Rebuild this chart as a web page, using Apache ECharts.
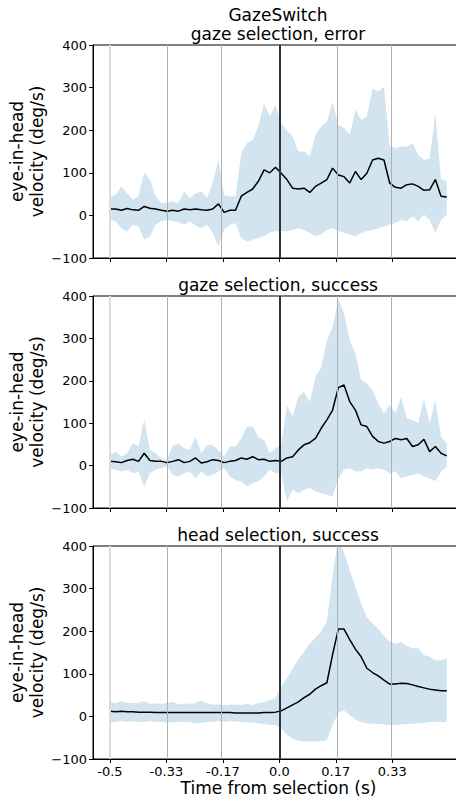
<!DOCTYPE html>
<html>
<head>
<meta charset="utf-8">
<title>GazeSwitch</title>
<script src="https://cdn.jsdelivr.net/npm/echarts@6.0.0/dist/echarts.min.js"></script>
<style>
html, body { margin: 0; padding: 0; background: #fff; }
#chart { width: 456px; height: 800px; }
</style>
</head>
<body>
<div id="chart"></div>
<script>
const figTitle = 'GazeSwitch';
const panelTitles = ['gaze selection, error', 'gaze selection, success', 'head selection, success'];
const yName = 'eye-in-head\nvelocity (deg/s)';
const xName = 'Time from selection (s)';

const xTickValues = [-0.5, -1 / 3, -1 / 6, 0, 1 / 6, 1 / 3];
const xTickLabels = ['-0.5', '-0.33', '-0.17', '0.0', '0.17', '0.33'];
const yTickValues = [-100, 0, 100, 200, 300, 400];
const yTickLabels = ['\u2212100', '0', '100', '200', '300', '400'];

// sample times: first sample at -0.5 s, one every ~16.9 ms
const t0 = -0.5;
const dt = 0.01685;

// gaze selection, error
const mean0 = [15, 15, 12, 16, 13, 12, 21, 17, 15, 12, 10, 12, 10, 15, 13, 15, 13, 12, 15, 27,
  7, 12, 12, 45, 54, 62, 80, 107, 100, 113, 99, 84, 64, 62, 64, 54, 68, 76, 84, 111,
  95, 91, 76, 103, 84, 99, 130, 134, 130, 76, 66, 64, 72, 74, 68, 59, 60, 84, 45, 43];
const upper0 = [45, 48, 68, 52, 37, 45, 100, 84, 45, 29, 29, 33, 29, 56, 41, 52, 56, 41, 76, 130,
  48, 45, 45, 146, 170, 177, 209, 263, 232, 259, 216, 200, 185, 150, 150, 138, 189, 209, 220, 267,
  212, 205, 189, 248, 224, 232, 298, 291, 302, 162, 158, 162, 162, 170, 142, 130, 134, 240, 84, 80];
const lower0 = [-10, -14, -30, -37, -22, -26, -57, -49, -22, -14, -10, -14, -16, -22, -14, -24, -30, -22, -41, -73,
  -34, -22, -18, -53, -61, -57, -53, -49, -40, -37, -37, -37, -34, -30, -34, -41, -49, -45, -34, -30,
  -37, -41, -45, -49, -41, -37, -34, -30, -26, -22, -18, -10, -14, -2, -14, 2, -10, -41, -10, 2];

// gaze selection, success
const mean1 = [10, 9, 7, 12, 15, 10, 29, 12, 10, 10, 7, 10, 14, 7, 10, 18, 6, 9, 14, 12,
  7, 10, 12, 18, 15, 21, 14, 15, 10, 12, 10, 18, 21, 37, 49, 54, 64, 88, 108, 131,
  184, 190, 151, 131, 96, 92, 69, 57, 53, 57, 64, 61, 64, 45, 49, 62, 33, 45, 29, 23];
const upper1 = [25, 33, 21, 29, 52, 45, 108, 37, 29, 17, 13, 48, 52, 41, 37, 68, 29, 48, 48, 37,
  21, 45, 45, 64, 92, 92, 68, 60, 29, 41, 48, 143, 115, 162, 174, 150, 209, 232, 295, 327,
  393, 358, 295, 264, 202, 194, 178, 147, 123, 143, 123, 162, 111, 107, 100, 158, 100, 154, 68, 52];
const lower1 = [-6, -10, -14, -10, -18, -14, -49, -18, -10, -6, -2, -22, -26, -18, -14, -30, -14, -26, -22, -14,
  -6, -26, -34, -37, -49, -41, -37, -26, -10, -18, -18, -84, -57, -65, -57, -53, -61, -65, -69, -73,
  -30, -10, -6, -14, -14, -6, -10, -6, -10, -18, -14, -30, -26, -22, -18, -26, -30, -37, -14, -2];

// head selection, success
const mean2 = [12, 11, 12, 11, 11, 10, 10, 10, 9, 9, 9, 9, 9, 9, 9, 9, 9, 9, 9, 9,
  9, 9, 8, 8, 8, 8, 8, 9, 9, 10, 13, 20, 27, 34, 44, 52, 64, 72, 79, 145,
  205, 205, 180, 158, 140, 113, 103, 95, 85, 76, 76, 78, 77, 74, 70, 67, 64, 62, 60, 60];
const upper2 = [34, 31, 36, 32, 32, 31, 36, 29, 31, 29, 32, 34, 28, 31, 29, 32, 37, 31, 28, 28,
  27, 27, 28, 27, 29, 27, 31, 34, 38, 42, 70, 90, 112, 134, 152, 171, 185, 199, 224, 330,
  420, 385, 343, 303, 265, 233, 218, 205, 188, 176, 170, 175, 165, 160, 160, 144, 140, 132, 131, 136];
const lower2 = [-13, -13, -10, -13, -11, -13, -13, -11, -13, -13, -15, -14, -13, -13, -13, -16, -15, -13, -13, -11,
  -13, -11, -12, -13, -14, -15, -16, -18, -20, -20, -28, -43, -52, -57, -59, -59, -59, -59, -56, -20,
  8, 14, 3, -8, -14, -16, -17, -18, -19, -20, -20, -19, -18, -17, -16, -15, -13, -13, -13, -13];

const panels = [
  { mean: mean0, upper: upper0, lower: lower0, top: 45, height: 213 },
  { mean: mean1, upper: upper1, lower: lower1, top: 296, height: 212 },
  { mean: mean2, upper: upper2, lower: lower2, top: 546, height: 213 },
];

const font = 'DejaVu Sans';
const bandColor = 'rgba(31,119,180,0.2)';
const times = mean0.map((_, i) => t0 + i * dt);

function tickLabel(values, labels) {
  return (val) => {
    const k = values.findIndex((v) => Math.abs(v - val) < 1e-6);
    return k >= 0 ? labels[k] : '';
  };
}

const grid = [];
const xAxis = [];
const yAxis = [];
const series = [];

panels.forEach((p, i) => {
  const last = i === panels.length - 1;
  grid.push({
    left: 93, width: 371, top: p.top, height: p.height,
    outerBoundsMode: 'none', containLabel: false,
    show: true, borderColor: '#000', borderWidth: 1,
  });
  xAxis.push({
    type: 'value', gridIndex: i, min: -0.55, max: 0.545,
    axisLine: { show: true, onZero: false, lineStyle: { color: '#000', width: 1 } },
    axisTick: { show: true, customValues: xTickValues, length: 4, lineStyle: { color: '#000' } },
    axisLabel: {
      show: last, customValues: xTickValues, formatter: tickLabel(xTickValues, xTickLabels),
      fontFamily: font, fontSize: 13, color: '#000', margin: 6,
    },
    splitLine: { show: false },
    name: last ? xName : '', nameLocation: 'middle', nameGap: 20,
    nameTextStyle: { fontFamily: font, fontSize: 17, color: '#000' },
  });
  yAxis.push({
    type: 'value', gridIndex: i, min: -100, max: 400, interval: 100,
    axisLine: { show: true, onZero: false, lineStyle: { color: '#000', width: 1 } },
    axisTick: { show: true, length: 4, lineStyle: { color: '#000' } },
    axisLabel: {
      formatter: tickLabel(yTickValues, yTickLabels),
      fontFamily: font, fontSize: 13, color: '#000', margin: 6,
    },
    splitLine: { show: false },
    name: yName, nameLocation: 'middle', nameRotate: 90, nameGap: 46, nameMoveOverlap: false,
    nameTextStyle: { fontFamily: font, fontSize: 17, color: '#000', lineHeight: 20 },
  });

  // shaded band between lower and upper, drawn as one polygon
  series.push({
    type: 'custom', xAxisIndex: i, yAxisIndex: i, clip: true, silent: true,
    data: times.map((t, k) => [t, p.lower[k], p.upper[k]]),
    encode: { x: 0, y: [1, 2] },
    renderItem: (params, api) => {
      if (params.dataIndex !== 0) return null;
      const top = times.map((t, k) => api.coord([t, p.upper[k]]));
      const bottom = times.map((t, k) => api.coord([t, p.lower[k]])).reverse();
      return {
        type: 'polygon',
        shape: { points: top.concat(bottom) },
        style: { fill: bandColor, stroke: null },
      };
    },
  });
  series.push({
    type: 'line', xAxisIndex: i, yAxisIndex: i,
    data: times.map((t, k) => [t, p.mean[k]]),
    symbol: 'none', silent: true,
    lineStyle: { color: '#000', width: 1.5 },
    markLine: {
      silent: true, symbol: ['none', 'none'], label: { show: false },
      lineStyle: { color: '#b0b0b0', width: 1, type: 'solid' },
      data: [
        { xAxis: -0.5, lineStyle: { color: '#dcdcdc', width: 2, type: 'solid' } },
        { xAxis: -1 / 3 }, { xAxis: -1 / 6 }, { xAxis: 1 / 6 }, { xAxis: 1 / 3 },
        { xAxis: 0, lineStyle: { color: '#333', width: 2, type: 'solid' } },
      ],
    },
  });
});

const textStyle = (text, x, y) => ({
  type: 'text', x, y, silent: true,
  style: {
    text, fill: '#000', fontFamily: font, fontSize: 17,
    align: 'center', verticalAlign: 'middle', textAlign: 'center', textVerticalAlign: 'middle',
  },
});

const chart = echarts.init(document.getElementById('chart'), null, { renderer: 'svg' });
chart.setOption({
  animation: false,
  backgroundColor: '#fff',
  grid, xAxis, yAxis, series,
  graphic: [
    textStyle(figTitle, 278, 15),
    textStyle(panelTitles[0], 278, 34),
    textStyle(panelTitles[1], 278, 285),
    textStyle(panelTitles[2], 278, 535),
  ],
});
</script>
</body>
</html>
